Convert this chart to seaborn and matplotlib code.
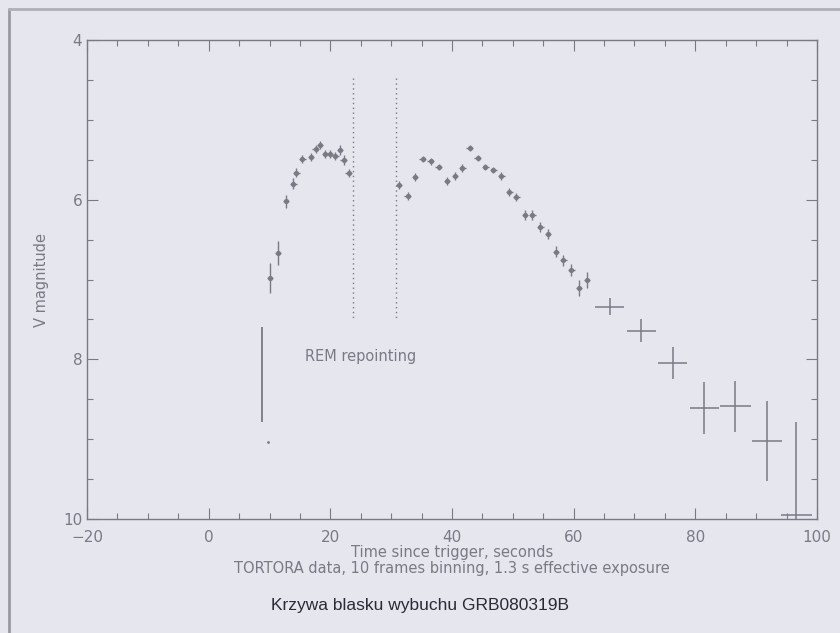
import numpy as np
import pandas as pd
import matplotlib
matplotlib.use("Agg")
import matplotlib.pyplot as plt
from matplotlib.ticker import MultipleLocator
import seaborn as sns

# ---- data ----
t_fast = [10.1, 11.4, 12.7, 13.9, 14.4, 15.4, 16.8, 17.6, 18.3, 19.2, 19.9, 20.8, 21.6, 22.2, 23.0,
          31.3, 32.7, 33.9, 35.2, 36.5, 37.8, 39.2, 40.5, 41.7, 42.9, 44.2, 45.5, 46.8, 48.1,
          49.4, 50.6, 52.0, 53.2, 54.5, 55.8, 57.1, 58.3, 59.6, 60.9, 62.2]
mag_fast = [6.98, 6.67, 6.02, 5.80, 5.66, 5.49, 5.46, 5.36, 5.31, 5.43, 5.43, 5.45, 5.38, 5.50, 5.66,
            5.82, 5.95, 5.72, 5.49, 5.52, 5.59, 5.77, 5.70, 5.60, 5.35, 5.48, 5.59, 5.63, 5.70,
            5.90, 5.97, 6.19, 6.19, 6.34, 6.43, 6.65, 6.76, 6.88, 7.11, 7.00]
err_fast = [0.19, 0.15, 0.08, 0.07, 0.06, 0.05, 0.05, 0.05, 0.05, 0.05, 0.05, 0.05, 0.06, 0.06, 0.05,
            0.05, 0.05, 0.05, 0.04, 0.04, 0.04, 0.05, 0.05, 0.05, 0.04, 0.04, 0.04, 0.04, 0.05,
            0.05, 0.05, 0.06, 0.06, 0.06, 0.06, 0.07, 0.07, 0.08, 0.10, 0.10]

t_slow = [65.9, 71.1, 76.3, 81.5, 86.6, 91.8, 96.6]
mag_slow = [7.34, 7.64, 8.04, 8.61, 8.59, 9.02, 9.95]
terr_slow = [2.4, 2.4, 2.4, 2.45, 2.5, 2.5, 2.5]
err_slow = [0.11, 0.14, 0.20, 0.33, 0.32, 0.50, 1.17]

t_early = [8.8]
mag_early = [8.19]
err_early = [0.59]
t_dot = [9.8]
mag_dot = [9.04]

repoint_t = [23.8, 30.8]
repoint_range = [4.48, 7.48]

bg = "#e6e6ef"
ink = "#7a7a84"

sns.set_theme(style="ticks")
plt.rcParams["font.family"] = ["DejaVu Sans"]

fig = plt.figure(figsize=(8.4, 6.33), dpi=100, facecolor=bg)
ax = fig.add_axes([0.1036, 0.18, 0.869, 0.7568])
ax.set_facecolor(bg)

df_fast = pd.DataFrame({"t": t_fast, "mag": mag_fast})
ax.errorbar(t_fast, mag_fast, xerr=0.55, yerr=err_fast, fmt="none", ecolor=ink, elinewidth=1.0, capsize=0)
sns.scatterplot(data=df_fast, x="t", y="mag", ax=ax, color=ink, s=14, linewidth=0, legend=False)

ax.errorbar(t_slow, mag_slow, xerr=terr_slow, yerr=err_slow, fmt="none", ecolor=ink, elinewidth=1.1, capsize=0)
ax.errorbar(t_early, mag_early, yerr=err_early, fmt="none", ecolor=ink, elinewidth=1.3, capsize=0)
sns.scatterplot(x=t_dot, y=mag_dot, ax=ax, color=ink, s=4, linewidth=0, legend=False)

for t in repoint_t:
    ax.vlines(t, repoint_range[0], repoint_range[1], colors=ink, linestyles=(0, (1, 2.5)), linewidth=1.0)

ax.text(15.8, 7.96, "REM repointing", color=ink, fontsize=10.5, va="center", ha="left")

ax.set_xlim(-20, 100)
ax.set_ylim(10, 4)
ax.xaxis.set_major_locator(MultipleLocator(20))
ax.xaxis.set_minor_locator(MultipleLocator(5))
ax.yaxis.set_major_locator(MultipleLocator(2))
ax.yaxis.set_minor_locator(MultipleLocator(0.5))
ax.tick_params(which="both", direction="in", top=True, right=True, colors=ink, labelcolor=ink,
               labelsize=11, width=0.8)
ax.tick_params(which="major", length=8)
ax.tick_params(which="minor", length=4)
ax.tick_params(axis="x", pad=8)
for s in ax.spines.values():
    s.set_color(ink)
    s.set_linewidth(1.0)

ax.set_xlabel("Time since trigger, seconds\nTORTORA data, 10 frames binning, 1.3 s effective exposure",
              color=ink, fontsize=10.5, labelpad=0, linespacing=1.05)
ax.set_ylabel("V magnitude", color=ink, fontsize=10.5, labelpad=10)

fig.text(0.5, 0.043, "Krzywa blasku wybuchu GRB080319B", ha="center", va="center",
         fontsize=12.5, color="#2b2b35", family=["Liberation Sans", "DejaVu Sans"])

# scan border lines
fig.add_artist(plt.Line2D([0.011, 0.011], [0.0, 0.985], color="#9a9aa4", lw=2.0, transform=fig.transFigure))
fig.add_artist(plt.Line2D([0.011, 1.0], [0.985, 0.985], color="#b0b0ba", lw=2.0, transform=fig.transFigure))

fig.savefig("out.png", dpi=100, facecolor=bg)
